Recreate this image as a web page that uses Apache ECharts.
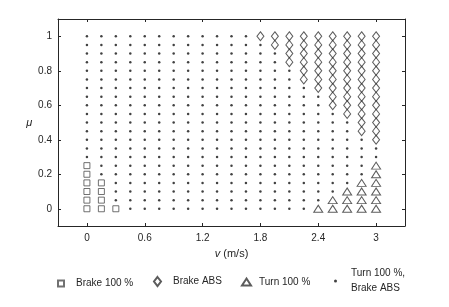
<!DOCTYPE html>
<html>
<head>
<meta charset="utf-8">
<script src="https://cdn.jsdelivr.net/npm/echarts@6/dist/echarts.min.js"></script>
<style>html,body{margin:0;padding:0;background:#fff}#c{width:449px;height:307px}</style>
</head>
<body>
<div id="c"></div>
<script>
// Grid of tested speeds (m/s) and friction coefficients
const speeds = [0, 0.15, 0.3, 0.45, 0.6, 0.75, 0.9, 1.05, 1.2, 1.35, 1.5, 1.65, 1.8, 1.95, 2.1, 2.25, 2.4, 2.55, 2.7, 2.85, 3.0];
const frictions = [0, 0.05, 0.1, 0.15, 0.2, 0.25, 0.3, 0.35, 0.4, 0.45, 0.5, 0.55, 0.6, 0.65, 0.7, 0.75, 0.8, 0.85, 0.9, 0.95, 1.0];
const xTicks = [0, 0.6, 1.2, 1.8, 2.4, 3];
const yTicks = [0, 0.2, 0.4, 0.6, 0.8, 1];

// Brake 100 %: speeds and highest mu for which it applies (from mu = 0 up)
const brakeSpeeds = [0, 0.15, 0.3];
const brakeMaxMu = [0.25, 0.15, 0];
// Brake ABS: speeds and lowest mu for which it applies (up to mu = 1)
const absSpeeds = [1.8, 1.95, 2.1, 2.25, 2.4, 2.55, 2.7, 2.85, 3.0];
const absMinMu = [1.0, 0.95, 0.85, 0.75, 0.70, 0.60, 0.55, 0.45, 0.40];
// Turn 100 %: speeds and highest mu for which it applies (from mu = 0 up)
const turnSpeeds = [2.4, 2.55, 2.7, 2.85, 3.0];
const turnMaxMu = [0, 0.05, 0.1, 0.15, 0.25];

const eq = (a, b) => Math.abs(a - b) < 1e-6;
const brakePts = [], absPts = [], turnPts = [], dotPts = [];
speeds.forEach(v => {
  frictions.forEach(m => {
    const bi = brakeSpeeds.findIndex(s => eq(s, v));
    const ai = absSpeeds.findIndex(s => eq(s, v));
    const ti = turnSpeeds.findIndex(s => eq(s, v));
    if (bi >= 0 && m <= brakeMaxMu[bi] + 1e-6) brakePts.push([v, m]);
    else if (ai >= 0 && m >= absMinMu[ai] - 1e-6) absPts.push([v, m]);
    else if (ti >= 0 && m <= turnMaxMu[ti] + 1e-6) turnPts.push([v, m]);
    else dotPts.push([v, m]);
  });
});

const axisCol = '#262626';
const font = 'Liberation Sans, Arial, Helvetica, sans-serif';
const chart = echarts.init(document.getElementById('c'));
const legendText = { fontFamily: font, fontSize: 10, color: '#262626', lineHeight: 15 };
const legendBase = { orient: 'horizontal', itemGap: 0, selectedMode: false };
chart.setOption({
  animation: false,
  backgroundColor: '#fff',
  grid: { left: 58, right: 44, top: 19, bottom: 81, containLabel: false },
  xAxis: [{
    type: 'value', min: -0.3, max: 3.3, position: 'bottom',
    axisLine: { show: true, onZero: false, lineStyle: { color: axisCol, width: 1 } },
    splitLine: { show: false },
    axisLabel: {
      margin: 7, fontFamily: font, fontSize: 10, color: axisCol,
      customValues: xTicks, formatter: v => String(v)
    },
    axisTick: { show: true, inside: true, length: 3, customValues: xTicks, lineStyle: { color: axisCol } },
    name: '{i|v} (m/s)', nameLocation: 'middle', nameGap: 22,
    nameTextStyle: { fontFamily: font, fontSize: 11, color: axisCol, rich: { i: { fontStyle: 'italic', fontFamily: font, fontSize: 11, color: axisCol } } }
  }, {
    type: 'value', min: -0.3, max: 3.3, position: 'top',
    axisLine: { show: true, onZero: false, lineStyle: { color: axisCol, width: 1 } },
    axisTick: { show: true, inside: true, length: 3, customValues: xTicks, lineStyle: { color: axisCol } },
    axisLabel: { show: false }, splitLine: { show: false }
  }],
  yAxis: [{
    type: 'value', min: -0.1, max: 1.1, position: 'left',
    axisLine: { show: true, onZero: false, lineStyle: { color: axisCol, width: 1 } },
    axisTick: { show: true, inside: true, length: 3, customValues: yTicks, lineStyle: { color: axisCol } },
    splitLine: { show: false },
    axisLabel: { margin: 6, fontFamily: font, fontSize: 10, color: axisCol, customValues: yTicks, formatter: v => String(v) },
    name: 'μ', nameLocation: 'middle', nameGap: 20, nameRotate: 0,
    nameTextStyle: { fontFamily: font, fontSize: 11, color: axisCol, fontStyle: 'italic' }
  }, {
    type: 'value', min: -0.1, max: 1.1, position: 'right',
    axisLine: { show: true, onZero: false, lineStyle: { color: axisCol, width: 1 } },
    axisTick: { show: true, inside: true, length: 3, customValues: yTicks, lineStyle: { color: axisCol } },
    axisLabel: { show: false }, splitLine: { show: false }
  }],
  legend: [
    Object.assign({}, legendBase, { left: 52, top: 271, itemWidth: 6, itemHeight: 6,
      textStyle: Object.assign({ padding: [0, 0, 0, 7] }, legendText), data: ['Brake 100 %'] }),
    Object.assign({}, legendBase, { left: 148, top: 269, itemWidth: 7, itemHeight: 9,
      textStyle: Object.assign({ padding: [0, 0, 0, 7] }, legendText), data: ['Brake ABS'] }),
    Object.assign({}, legendBase, { left: 236, top: 268, itemWidth: 9, itemHeight: 7,
      textStyle: Object.assign({ padding: [3, 0, 0, 3] }, legendText), data: ['Turn 100 %'] }),
    Object.assign({}, legendBase, { left: 329, top: 261, itemWidth: 3, itemHeight: 3,
      textStyle: Object.assign({ padding: [0, 0, 0, 9] }, legendText), data: ['Turn 100 %,\nBrake ABS'] })
  ],
  series: [{
    name: 'Brake 100 %', type: 'scatter', data: brakePts,
    symbol: 'rect', symbolSize: 6,
    itemStyle: { color: '#fff', borderColor: '#4d4d4d', borderWidth: 1 }
  }, {
    name: 'Brake ABS', type: 'scatter', data: absPts,
    symbol: 'diamond', symbolSize: [7, 9],
    itemStyle: { color: 'rgba(255,255,255,0)', borderColor: '#333', borderWidth: 1 }
  }, {
    name: 'Turn 100 %', type: 'scatter', data: turnPts,
    symbol: 'triangle', symbolSize: [9, 7],
    itemStyle: { color: '#fff', borderColor: '#333', borderWidth: 1 }
  }, {
    name: 'Turn 100 %,\nBrake ABS', type: 'scatter', data: dotPts,
    symbol: 'circle', symbolSize: 2.5,
    itemStyle: { color: '#111' }
  }]
});
</script>
</body>
</html>
